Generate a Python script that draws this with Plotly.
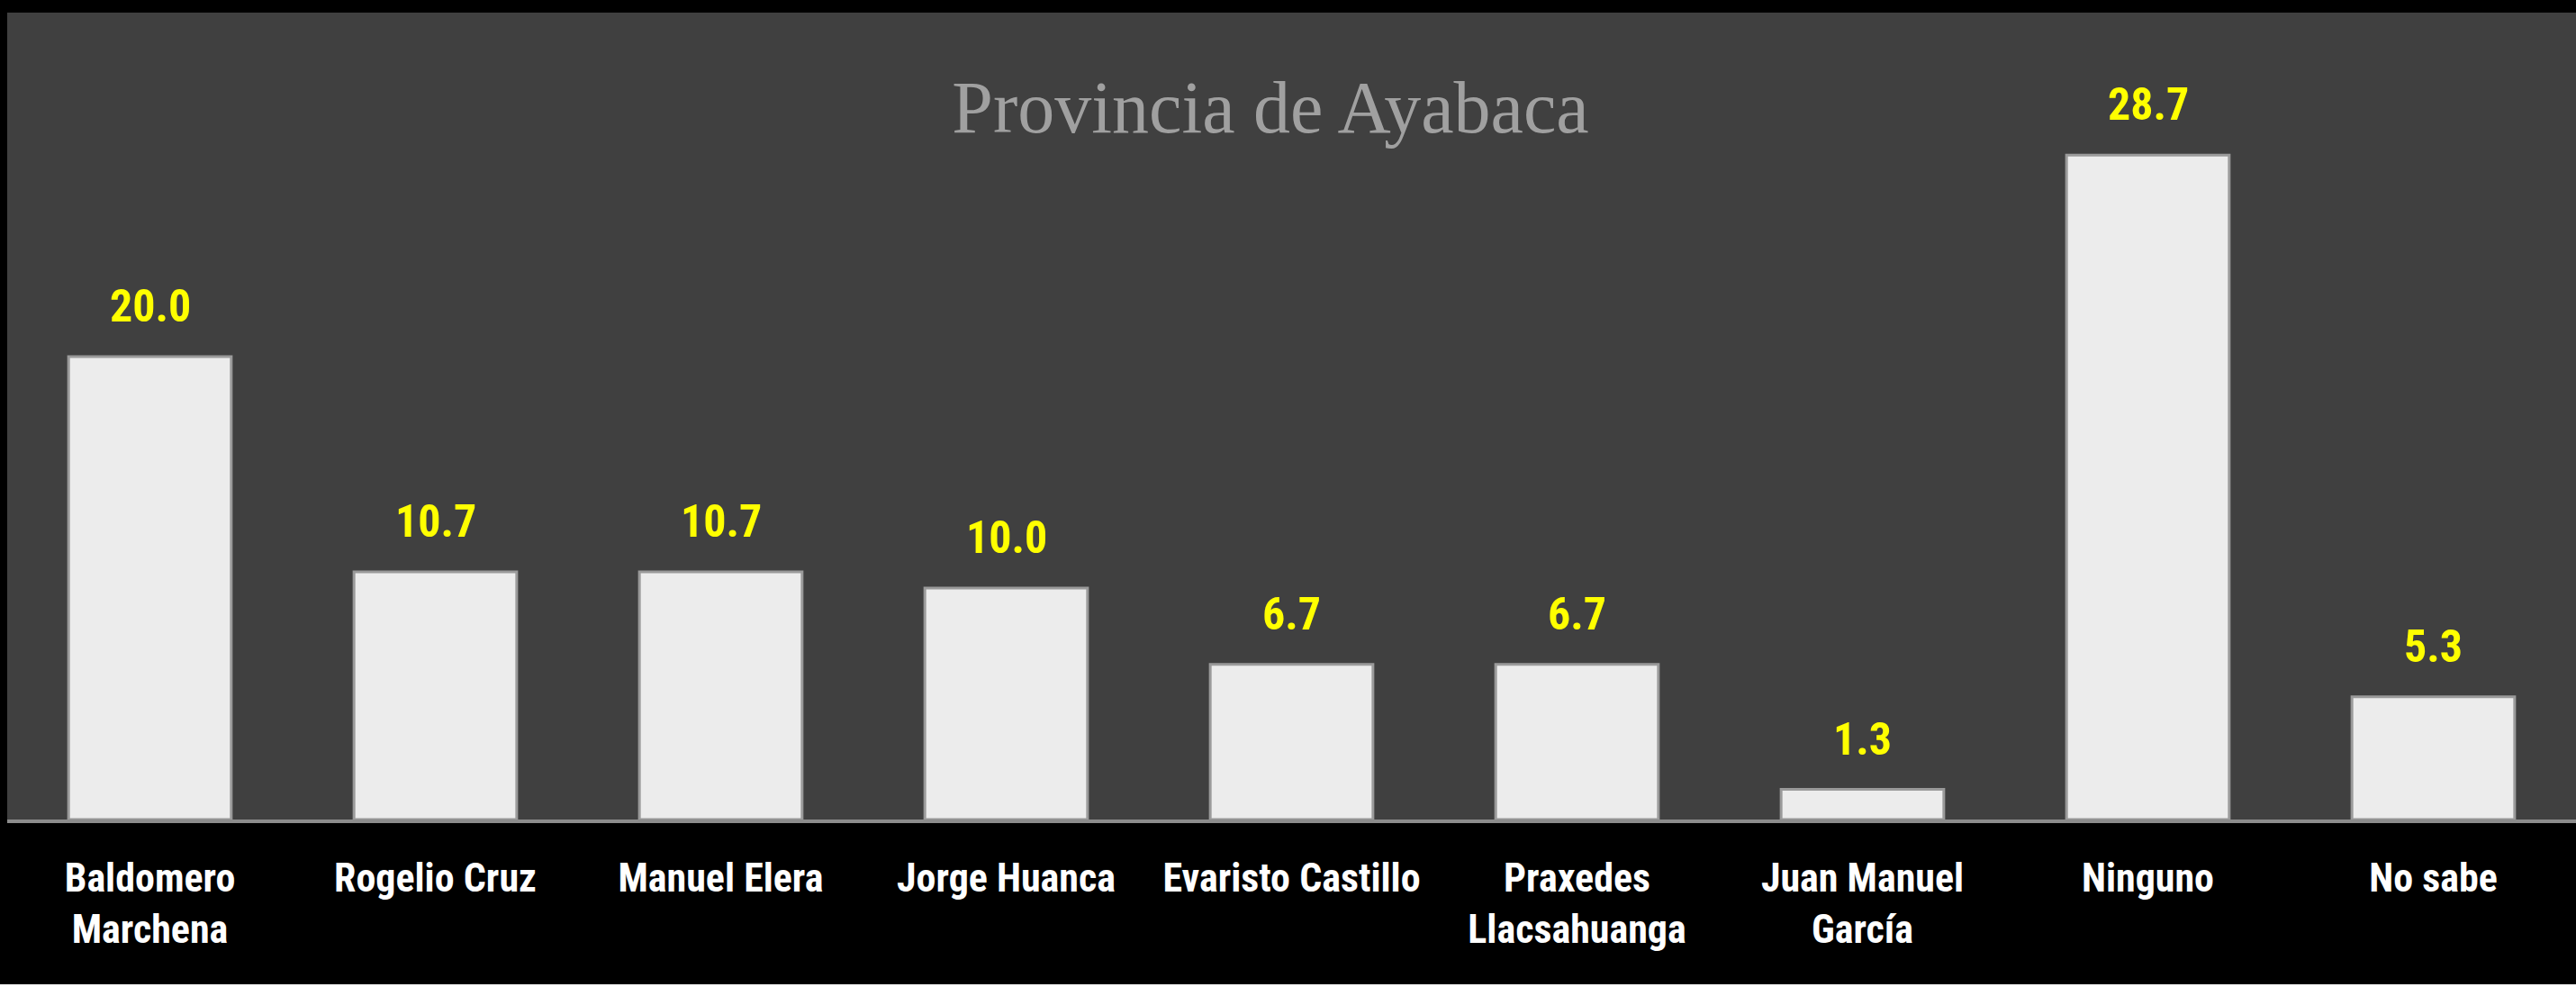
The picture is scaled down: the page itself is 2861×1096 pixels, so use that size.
import plotly.graph_objects as go

categories = ["Baldomero<br>Marchena", "Rogelio Cruz", "Manuel Elera", "Jorge Huanca",
              "Evaristo Castillo", "Praxedes<br>Llacsahuanga", "Juan Manuel<br>García",
              "Ninguno", "No sabe"]
values = [20.0, 10.7, 10.7, 10.0, 6.7, 6.7, 1.3, 28.7, 5.3]
value_labels = ["20.0", "10.7", "10.7", "10.0", "6.7", "6.7", "1.3", "28.7", "5.3"]
title_text = "Provincia de Ayabaca"

W, H = 2861, 1096
narrow = "Liberation Sans Narrow, Arial Narrow, Roboto Condensed, Liberation Sans, sans-serif"

fig = go.Figure()
fig.add_trace(go.Bar(
    x=categories, y=values,
    marker=dict(color="#ececec", line=dict(color="#9a9a9a", width=3)),
    hoverinfo="x+y", showlegend=False,
))

annotations = []
for c, v, t in zip(categories, values, value_labels):
    annotations.append(dict(
        x=c, y=v, xref="x", yref="y", text="<b>" + t + "</b>", showarrow=False,
        yanchor="bottom", yshift=25,
        font=dict(family=narrow, size=50, color="#ffff00"),
    ))

fig.update_layout(
    width=W, height=H,
    paper_bgcolor="#000000", plot_bgcolor="#404040",
    margin=dict(l=8, r=0, t=14, b=186, pad=0),
    bargap=0.43,
    title=dict(text=title_text, x=1407 / W, xanchor="center", xref="paper",
               y=1 - 118 / H, yanchor="middle", yref="container",
               font=dict(family="Liberation Serif, Times New Roman, serif", size=82, color="#a0a0a0")),
    xaxis=dict(showgrid=False, showline=True, linecolor="#8c8c8c", linewidth=4,
               ticks="outside", ticklen=23, tickcolor="rgba(0,0,0,0)",
               tickfont=dict(family=narrow, size=44, color="#ffffff", weight="bold"),
               tickangle=0, zeroline=False),
    yaxis=dict(range=[0, 34.86], showgrid=False, showticklabels=False, zeroline=False,
               showline=False, ticks=""),
    annotations=annotations,
    shapes=[dict(type="rect", xref="paper", yref="paper", x0=-8 / 2853, x1=1,
                 y0=-186 / 896, y1=-183 / 896, fillcolor="#ffffff", line=dict(width=0),
                 layer="above")],
)

fig.write_html("out.html",
               config={"displayModeBar": False},
               post_script="document.body.style.margin='0';document.body.style.background='#000';")
